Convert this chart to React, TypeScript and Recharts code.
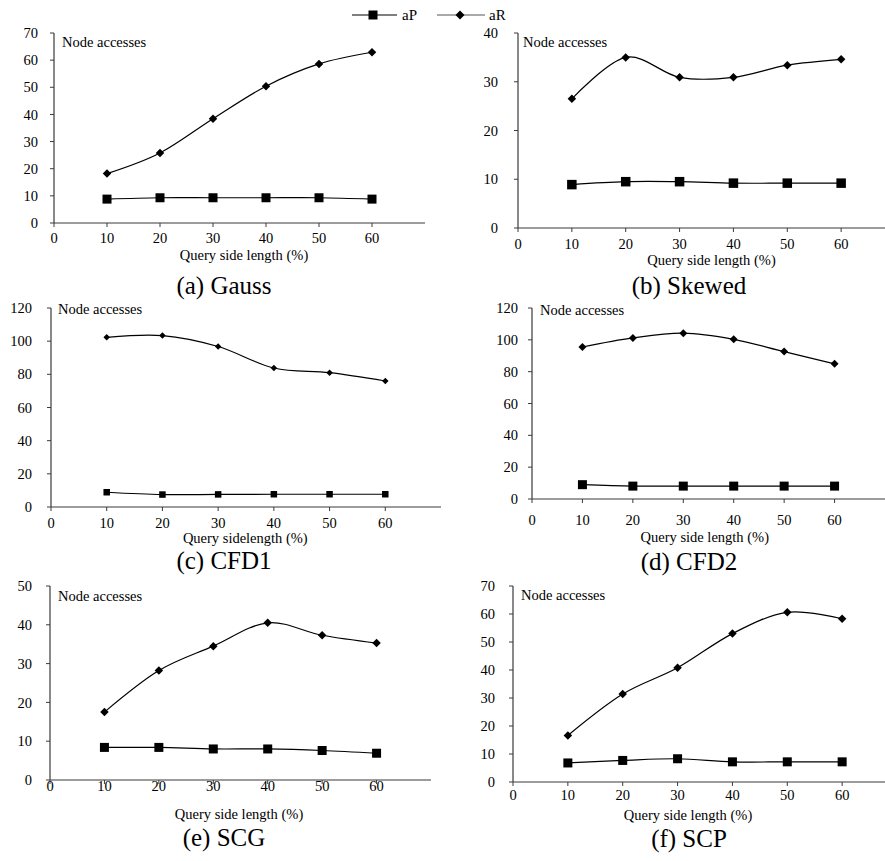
import React from 'react';
import { LineChart, Line, XAxis, YAxis } from 'recharts';

const FONT = '"Liberation Serif", "Times New Roman", Times, serif';

// ---- data ----
const xValues = [10, 20, 30, 40, 50, 60];
const xTicks = [0, 10, 20, 30, 40, 50, 60];

const gaussAP = [8.8, 9.3, 9.3, 9.3, 9.3, 8.8];
const gaussAR = [18.2, 25.8, 38.4, 50.4, 58.6, 62.9];
const skewedAP = [8.9, 9.5, 9.5, 9.2, 9.2, 9.2];
const skewedAR = [26.5, 35.0, 30.9, 30.9, 33.4, 34.6];
const cfd1AP = [8.9, 7.5, 7.6, 7.7, 7.7, 7.7];
const cfd1AR = [102.3, 103.4, 96.8, 83.8, 81.0, 76.0];
const cfd2AP = [9.0, 8.1, 8.1, 8.1, 8.1, 8.1];
const cfd2AR = [95.5, 101.2, 104.2, 100.3, 92.6, 84.9];
const scgAP = [8.4, 8.4, 8.0, 8.0, 7.6, 6.9];
const scgAR = [17.5, 28.2, 34.5, 40.5, 37.3, 35.3];
const scpAP = [6.8, 7.7, 8.3, 7.2, 7.2, 7.2];
const scpAR = [16.6, 31.4, 40.8, 53.0, 60.6, 58.3];

const ticks70 = [0, 10, 20, 30, 40, 50, 60, 70];
const ticks40 = [0, 10, 20, 30, 40];
const ticks120 = [0, 20, 40, 60, 80, 100, 120];
const ticks50 = [0, 10, 20, 30, 40, 50];

const seriesNames = ['aP', 'aR'];

// Catmull-Rom style smoothing (like spreadsheet smoothed lines)
function smoothCurve(context: any) {
  const k = 1 / 6;
  let x0 = NaN, y0 = NaN, x1 = NaN, y1 = NaN, x2 = NaN, y2 = NaN;
  let pnt = 0;
  let line: number = NaN;
  const seg = (x: number, y: number) => {
    context.bezierCurveTo(
      x1 + k * (x2 - x0),
      y1 + k * (y2 - y0),
      x2 + k * (x1 - x),
      y2 + k * (y1 - y),
      x2,
      y2
    );
  };
  return {
    areaStart() { line = 0; },
    areaEnd() { line = NaN; },
    lineStart() {
      x0 = x1 = x2 = y0 = y1 = y2 = NaN;
      pnt = 0;
    },
    lineEnd() {
      switch (pnt) {
        case 2: context.lineTo(x2, y2); break;
        case 3: seg(x1, y1); break;
      }
      if (line || (line !== 0 && pnt === 1)) context.closePath();
      line = 1 - line;
    },
    point(xa: any, ya: any) {
      const x = +xa, y = +ya;
      switch (pnt) {
        case 0:
          pnt = 1;
          if (line) context.lineTo(x, y); else context.moveTo(x, y);
          break;
        case 1:
          pnt = 2;
          x1 = x; y1 = y;
          break;
        case 2:
          pnt = 3;
          seg(x, y);
          break;
        default:
          seg(x, y);
          break;
      }
      x0 = x1; x1 = x2; x2 = x;
      y0 = y1; y1 = y2; y2 = y;
    },
  };
}

const makeSquare = (s: number) => (props: any) => {
  const { cx, cy, index } = props;
  if (cx == null || cy == null) return <g key={`s${index}`} />;
  return <rect key={`s${index}`} x={cx - s / 2} y={cy - s / 2} width={s} height={s} fill="#000" />;
};

const makeDiamond = (s: number) => (props: any) => {
  const { cx, cy, index } = props;
  if (cx == null || cy == null) return <g key={`d${index}`} />;
  const h = s / 2;
  return (
    <path
      key={`d${index}`}
      d={`M${cx},${cy - h}L${cx + h},${cy}L${cx},${cy + h}L${cx - h},${cy}Z`}
      fill="#000"
    />
  );
};

type PanelCfg = {
  title: string;
  xLabel: string;
  ap: number[];
  ar: number[];
  yMax: number;
  yTicks: number[];
  plotLeft: number;
  plotRight: number;
  plotTop: number;
  plotBottom: number;
  yTickMargin: number;
  xTickMargin: number;
  xLabelOffset: number;
  xLabelDx: number;
  titleX: number;
  titleY: number;
  nodeX: number;
  nodeY: number;
  sq: number;
  di: number;
};

const panels: PanelCfg[] = [
  { title: '(a) Gauss', xLabel: 'Query side length (%)', ap: gaussAP, ar: gaussAR, yMax: 70, yTicks: ticks70,
    plotLeft: 54, plotRight: 425, plotTop: 33, plotBottom: 223, yTickMargin: 12, xTickMargin: 5.5,
    xLabelOffset: 27, xLabelDx: 4.5, titleX: 224, titleY: 294, nodeX: 62, nodeY: 47, sq: 9, di: 8.5 },
  { title: '(b) Skewed', xLabel: 'Query side length (%)', ap: skewedAP, ar: skewedAR, yMax: 40, yTicks: ticks40,
    plotLeft: 518, plotRight: 895, plotTop: 33, plotBottom: 228, yTickMargin: 16, xTickMargin: 6.5,
    xLabelOffset: 27, xLabelDx: 5, titleX: 689, titleY: 294, nodeX: 523, nodeY: 47, sq: 9.5, di: 8.5 },
  { title: '(c) CFD1', xLabel: 'Query sidelength (%)', ap: cfd1AP, ar: cfd1AR, yMax: 120, yTicks: ticks120,
    plotLeft: 51, plotRight: 441, plotTop: 308, plotBottom: 507, yTickMargin: 15, xTickMargin: 6.5,
    xLabelOffset: 25.5, xLabelDx: -0.7, titleX: 224, titleY: 569, nodeX: 58, nodeY: 314, sq: 6.5, di: 6.5 },
  { title: '(d) CFD2', xLabel: 'Query side length (%)', ap: cfd2AP, ar: cfd2AR, yMax: 120, yTicks: ticks120,
    plotLeft: 532, plotRight: 885, plotTop: 308, plotBottom: 499, yTickMargin: 10, xTickMargin: 11.5,
    xLabelOffset: 33, xLabelDx: -3.75, titleX: 689, titleY: 570, nodeX: 540, nodeY: 315, sq: 9, di: 8 },
  { title: '(e) SCG', xLabel: 'Query side length (%)', ap: scgAP, ar: scgAR, yMax: 50, yTicks: ticks50,
    plotLeft: 50, plotRight: 431, plotTop: 586, plotBottom: 780, yTickMargin: 14, xTickMargin: -3,
    xLabelOffset: 28.5, xLabelDx: -1.5, titleX: 224, titleY: 846, nodeX: 58, nodeY: 601, sq: 9, di: 8.5 },
  { title: '(f) SCP', xLabel: 'Query side length (%)', ap: scpAP, ar: scpAR, yMax: 70, yTicks: ticks70,
    plotLeft: 513, plotRight: 897, plotTop: 586, plotBottom: 782, yTickMargin: 14, xTickMargin: 4,
    xLabelOffset: 28, xLabelDx: -17, titleX: 689, titleY: 847, nodeX: 521, nodeY: 600, sq: 9, di: 8.5 },
];

const Y_AXIS_W = 50;
const TOP_M = 10;
const X_AXIS_H = 90;
const AXIS_COLOR = '#3a3a3a';
const SMALL = 14.5;
const TITLE = 25;

function Panel({ cfg }: { cfg: PanelCfg }) {
  const data = xValues.map((x, i) => ({ x, aP: cfg.ap[i], aR: cfg.ar[i] }));
  const chartLeft = cfg.plotLeft - Y_AXIS_W;
  const chartTop = cfg.plotTop - TOP_M;
  const width = Y_AXIS_W + (cfg.plotRight - cfg.plotLeft);
  const height = TOP_M + (cfg.plotBottom - cfg.plotTop) + X_AXIS_H;
  const tickStyle = { fill: '#000', fontSize: SMALL, fontFamily: FONT };
  return (
    <div style={{ position: 'absolute', left: chartLeft, top: chartTop }}>
      <LineChart width={width} height={height} data={data} margin={{ top: TOP_M, right: 0, left: 0, bottom: 0 }}>
        <XAxis
          dataKey="x"
          type="number"
          domain={[0, 70]}
          ticks={xTicks}
          interval={0}
          height={X_AXIS_H}
          tickSize={4}
          tickMargin={cfg.xTickMargin}
          tick={tickStyle}
          axisLine={{ stroke: AXIS_COLOR, strokeWidth: 1.2 }}
          tickLine={{ stroke: AXIS_COLOR, strokeWidth: 1 }}
          label={{
            value: cfg.xLabel,
            position: 'insideTop',
            offset: cfg.xLabelOffset,
            dx: cfg.xLabelDx,
            fill: '#000',
            fontSize: SMALL,
            fontFamily: FONT,
          }}
        />
        <YAxis
          type="number"
          domain={[0, cfg.yMax]}
          ticks={cfg.yTicks}
          interval={0}
          width={Y_AXIS_W}
          tickSize={4}
          tickMargin={cfg.yTickMargin}
          tick={tickStyle}
          axisLine={{ stroke: AXIS_COLOR, strokeWidth: 1.2 }}
          tickLine={{ stroke: AXIS_COLOR, strokeWidth: 1 }}
        />
        <Line
          dataKey="aP"
          name={seriesNames[0]}
          type={smoothCurve as any}
          stroke="#000"
          strokeWidth={1.2}
          dot={makeSquare(cfg.sq)}
          activeDot={false}
          isAnimationActive={false}
        />
        <Line
          dataKey="aR"
          name={seriesNames[1]}
          type={smoothCurve as any}
          stroke="#000"
          strokeWidth={1.2}
          dot={makeDiamond(cfg.di)}
          activeDot={false}
          isAnimationActive={false}
        />
        <text x={cfg.nodeX - chartLeft} y={cfg.nodeY - chartTop} fontSize={SMALL} fontFamily={FONT} fill="#000">
          Node accesses
        </text>
        <text
          x={cfg.titleX - chartLeft}
          y={cfg.titleY - chartTop}
          fontSize={TITLE}
          fontFamily={FONT}
          fill="#000"
          textAnchor="middle"
        >
          {cfg.title}
        </text>
      </LineChart>
    </div>
  );
}

function LegendBar() {
  return (
    <svg width={885} height={30} style={{ position: 'absolute', left: 0, top: 0 }}>
      <line x1={352} y1={15} x2={397} y2={15} stroke="#000" strokeWidth={1.2} />
      <rect x={373 - 4.5} y={15 - 4.5} width={9} height={9} fill="#000" />
      <text x={402} y={20} fontSize={15} fontFamily={FONT} fill="#000">{seriesNames[0]}</text>
      <line x1={437} y1={15} x2={485} y2={15} stroke="#555" strokeWidth={1.2} />
      <path d="M460,10.5L464.5,15L460,19.5L455.5,15Z" fill="#000" />
      <text x={489} y={20} fontSize={15} fontFamily={FONT} fill="#000">{seriesNames[1]}</text>
    </svg>
  );
}

export default function App() {
  return (
    <div
      style={{
        position: 'absolute',
        left: 0,
        top: 0,
        width: 885,
        height: 861,
        overflow: 'hidden',
        background: '#fff',
        fontFamily: FONT,
      }}
    >
      <LegendBar />
      {panels.map((p) => (
        <Panel key={p.title} cfg={p} />
      ))}
    </div>
  );
}
